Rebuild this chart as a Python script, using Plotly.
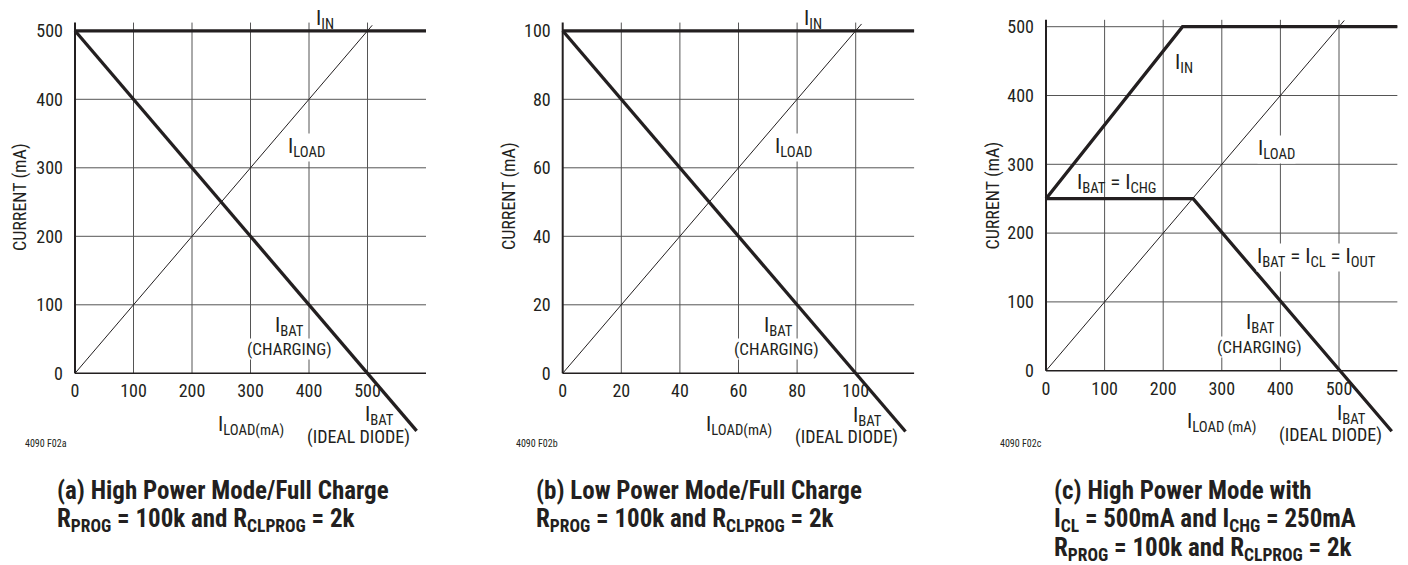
import plotly.graph_objects as go

# ---- data ----
# (a) high power mode / full charge
a_iin_x = [0, 600]
a_iin_y = [500, 500]
a_iload_x = [0, 508]
a_iload_y = [0, 508]
a_ibat_x = [0, 584]
a_ibat_y = [500, -84]
a_ticks = [0, 100, 200, 300, 400, 500]

# (b) low power mode / full charge
b_iin_x = [0, 120]
b_iin_y = [100, 100]
b_iload_x = [0, 102]
b_iload_y = [0, 102]
b_ibat_x = [0, 117]
b_ibat_y = [100, -17]
b_ticks = [0, 20, 40, 60, 80, 100]

# (c) high power mode with ICL = 500mA and ICHG = 250mA
c_iin_x = [0, 233, 600]
c_iin_y = [250, 500, 500]
c_iload_x = [0, 509]
c_iload_y = [0, 509]
c_ibat_x = [0, 251, 590]
c_ibat_y = [250, 250, -88]
c_ticks = [0, 100, 200, 300, 400, 500]

W, H = 1408, 565
OFF = 8  # page body margin
FONT = "Roboto Condensed, DejaVu Sans Condensed, sans-serif"
INK = "#231f20"
GRID = "#555555"


def fx(px):
    return min(1, max(0, (px - OFF) / W))


def fy(py):
    return min(1, max(0, 1 - (py - OFF) / H))


fig = go.Figure()
shapes = []
annots = []


def panel(n, xs, ticks, xmax, ymin, ymax, gridtop, x0px, kx, y0px, ky):
    # x0px/y0px: pixel of the data origin, kx/ky: pixels per unit
    sfx = "" if n == 1 else str(n)
    xa, ya = "x" + sfx, "y" + sfx
    iin, iload, ibat = xs
    fig.add_trace(go.Scatter(x=iload[0], y=iload[1], mode="lines", xaxis=xa, yaxis=ya,
                             line=dict(color=INK, width=1), showlegend=False, hoverinfo="skip"))
    fig.add_trace(go.Scatter(x=iin[0], y=iin[1], mode="lines", xaxis=xa, yaxis=ya,
                             line=dict(color=INK, width=3.3), showlegend=False, hoverinfo="skip"))
    fig.add_trace(go.Scatter(x=ibat[0], y=ibat[1], mode="lines", xaxis=xa, yaxis=ya,
                             line=dict(color=INK, width=3.3), showlegend=False, hoverinfo="skip"))
    xmin = -3 / kx
    for t in ticks[1:]:
        shapes.append(dict(type="line", xref=xa, yref=ya, x0=0, x1=xmax, y0=t, y1=t,
                           line=dict(color=GRID, width=1), layer="below"))
        shapes.append(dict(type="line", xref=xa, yref=ya, x0=t, x1=t, y0=0, y1=gridtop,
                           line=dict(color=GRID, width=1), layer="below"))
    shapes.append(dict(type="line", xref=xa, yref=ya, x0=0, x1=xmax, y0=0, y1=0,
                       line=dict(color=INK, width=1.6), layer="below"))
    shapes.append(dict(type="line", xref=xa, yref=ya, x0=0, x1=0, y0=0, y1=gridtop,
                       line=dict(color=INK, width=2), layer="below"))
    xdom = [fx(x0px + xmin * kx), fx(x0px + xmax * kx)]
    ydom = [fy(y0px - ymin * ky), fy(y0px - ymax * ky)]
    fig.update_layout(**{
        "xaxis" + sfx: dict(domain=xdom, range=[xmin, xmax], anchor="free", position=fy(y0px),
                            tickvals=ticks, showgrid=False, zeroline=False, showline=False,
                            ticklabelstandoff=5,
                            tickfont=dict(family=FONT, size=18, color=INK)),
        "yaxis" + sfx: dict(domain=ydom, range=[ymin, ymax], anchor=xa, tickvals=ticks,
                            showgrid=False, zeroline=False, showline=False,
                            ticklabelstandoff=8,
                            tickfont=dict(family=FONT, size=18, color=INK)),
    })


def lab(xa, ya, x, y, text, size=21, bg="white"):
    annots.append(dict(xref=xa, yref=ya, x=x, y=y, text=text, showarrow=False,
                       xanchor="center", yanchor="middle",
                       font=dict(family=FONT, size=size, color=INK),
                       bgcolor=bg, borderpad=0))


panel(1, [(a_iin_x, a_iin_y), (a_iload_x, a_iload_y), (a_ibat_x, a_ibat_y)], a_ticks,
      600, -105, 530, 512, 75, 0.585, 373.3, 0.685)
panel(2, [(b_iin_x, b_iin_y), (b_iload_x, b_iload_y), (b_ibat_x, b_ibat_y)], b_ticks,
      120, -21, 106, 102.4, 562.7, 2.93, 373.3, 3.425)
panel(3, [(c_iin_x, c_iin_y), (c_iload_x, c_iload_y), (c_ibat_x, c_ibat_y)], c_ticks,
      600, -105, 525, 510, 1046, 0.586, 370.7, 0.688)

# labels panel a
lab("x", "y", 427, 516, "I<sub>IN</sub>", bg=None)
lab("x", "y", 396, 329, "I<sub>LOAD</sub>")
lab("x", "y", 367, 69, "I<sub>BAT</sub>")
lab("x", "y", 366, 35, "(CHARGING)", 17)
lab("x", "y", 301, -75.5, "I<sub>LOAD(mA)</sub>", bg=None)
lab("x", "y", 521, -62, "I<sub>BAT</sub>", bg=None)
lab("x", "y", 484, -93, "(IDEAL DIODE)", 18, bg=None)
# labels panel b
lab("x2", "y2", 85.4, 103.2, "I<sub>IN</sub>", bg=None)
lab("x2", "y2", 78.9, 65.8, "I<sub>LOAD</sub>")
lab("x2", "y2", 73.5, 13.8, "I<sub>BAT</sub>")
lab("x2", "y2", 73.1, 7.0, "(CHARGING)", 17)
lab("x2", "y2", 60.2, -15.1, "I<sub>LOAD(mA)</sub>", bg=None)
lab("x2", "y2", 103.9, -12.5, "I<sub>BAT</sub>", bg=None)
lab("x2", "y2", 96.9, -18.6, "(IDEAL DIODE)", 18, bg=None)
# labels panel c
lab("x3", "y3", 236, 447, "I<sub>IN</sub>")
lab("x3", "y3", 394, 321, "I<sub>LOAD</sub>")
lab("x3", "y3", 122, 272, "I<sub>BAT</sub> = I<sub>CHG</sub>", bg=None)
lab("x3", "y3", 462, 165, "I<sub>BAT</sub> = I<sub>CL</sub> = I<sub>OUT</sub>")
lab("x3", "y3", 366, 68, "I<sub>BAT</sub>")
lab("x3", "y3", 365, 34, "(CHARGING)", 17)
lab("x3", "y3", 301, -74.6, "I<sub>LOAD (mA)</sub>", bg=None)
lab("x3", "y3", 520.5, -64, "I<sub>BAT</sub>", bg=None)
lab("x3", "y3", 485, -93, "(IDEAL DIODE)", 18, bg=None)

# y titles and figure codes
for tx, ty, code, cx in [(20, 197, "4090 F02a", 45.5), (509, 196, "4090 F02b", 537),
                         (992.5, 196, "4090 F02c", 1021)]:
    annots.append(dict(xref="paper", yref="paper", x=fx(tx), y=fy(ty), text="CURRENT (mA)",
                       textangle=-90, showarrow=False, xanchor="center", yanchor="middle",
                       font=dict(family=FONT, size=18, color=INK)))
    annots.append(dict(xref="paper", yref="paper", x=fx(cx), y=fy(443), text=code,
                       showarrow=False, xanchor="center", yanchor="middle",
                       font=dict(family=FONT, size=10, color=INK)))

# captions, one annotation per line
cap_a = ["(a) High Power Mode/Full Charge",
         "R<sub>PROG</sub> = 100k and R<sub>CLPROG</sub> = 2k"]
cap_b = ["(b) Low Power Mode/Full Charge",
         "R<sub>PROG</sub> = 100k and R<sub>CLPROG</sub> = 2k"]
cap_c = ["(c) High Power Mode with",
         "I<sub>CL</sub> = 500mA and I<sub>CHG</sub> = 250mA",
         "R<sub>PROG</sub> = 100k and R<sub>CLPROG</sub> = 2k"]
for px, lines in [(55, cap_a), (534, cap_b), (1052, cap_c)]:
    for i, txt in enumerate(lines):
        annots.append(dict(xref="paper", yref="paper", x=fx(px), y=fy(490 + i * 29.5),
                           text="<b>" + txt + "</b>", xanchor="left", yanchor="middle",
                           align="left", showarrow=False,
                           font=dict(family=FONT, size=25, color=INK)))

fig.update_layout(width=W, height=H, margin=dict(l=0, r=0, t=0, b=0),
                  paper_bgcolor="white", plot_bgcolor="white",
                  shapes=shapes, annotations=annots, showlegend=False)

fig.write_html("out.html")
